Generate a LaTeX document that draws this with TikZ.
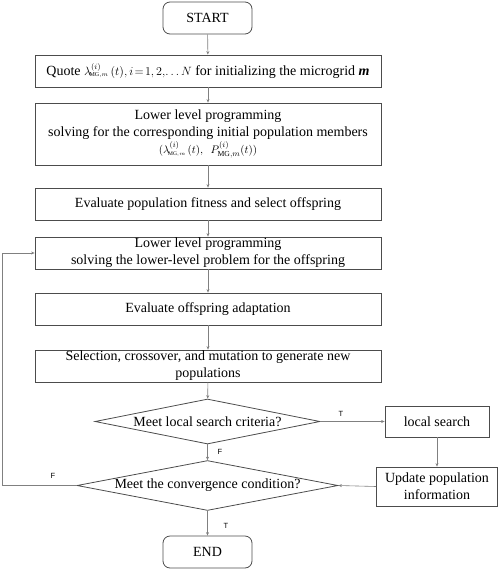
\documentclass[tikz,border=0pt]{standalone}
\usepackage{fontspec}
\setmainfont{Liberation Serif}
\newfontfamily\labfont{Liberation Sans}
\usetikzlibrary{shapes.geometric,arrows.meta}
\begin{document}
\begin{tikzpicture}[x=1pt,y=1pt,
  box/.style={draw=black!70,line width=0.8pt,rectangle,inner sep=1pt,align=center,font=\fontsize{14}{17}\selectfont},
  wide/.style={box,minimum width=346pt},
  term/.style={box,rounded corners=7pt,minimum width=89pt,minimum height=32pt},
  dec/.style={draw=black!70,line width=0.8pt,diamond,aspect=5,inner sep=0pt,font=\fontsize{14}{17}\selectfont},
  conn/.style={draw=black!50,line width=0.6pt,-{Stealth[length=3.5pt,width=3pt]}},
  lab/.style={font=\labfont\fontsize{7.5}{8}\selectfont}]
\useasboundingbox (0,0) rectangle (498,-570);
\node[term] (start) at (207.5,-18) {START};
\node[wide,minimum height=32pt] (q1) at (208,-71) {Quote {\fontsize{12}{14}\selectfont$\lambda^{(i)}_{\!\scriptscriptstyle\mathrm{MG},m}\,(t),i\!=\!1,2,\!\ldots N$} for initializing the microgrid \textbf{\textit{m}}};
\node[wide,minimum height=62pt] (q2) at (208,-134) {Lower level programming\\ solving for the corresponding initial population members\\ {\fontsize{11}{14}\selectfont$(\lambda^{(i)}_{\!\scriptscriptstyle\mathrm{MG},m}\,(t),\ \ P^{(i)}_{\mathrm{MG},m}(t))$}};
\node[wide,minimum height=32pt] (q3) at (208,-204) {Evaluate population fitness and select offspring};
\node[wide,minimum height=32pt] (q4) at (208,-253) {Lower level programming\\ solving the lower-level problem for the offspring};
\node[wide,minimum height=32pt] (q5) at (208,-309) {Evaluate offspring adaptation};
\node[wide,minimum height=32pt] (q6) at (208,-366) {Selection, crossover, and mutation to generate new\\ populations};
\node[dec,minimum width=225pt,minimum height=45pt] (d1) at (207.5,-421.5) {Meet local search criteria?};
\node[dec,minimum width=261pt,minimum height=47pt] (d2) at (207.5,-485.5) {Meet the convergence condition?};
\node[term] (end) at (207.5,-552) {END};
\node[box,minimum width=104pt,minimum height=31pt] (ls) at (437,-421.5) {local search};
\node[box,minimum width=121pt,minimum height=39pt] (up) at (437,-486.5) {Update population\\ information};
\coordinate (lp) at (2,-485.5);
\draw[conn] (start) -- (q1);
\draw[conn] (q1) -- (q2);
\draw[conn] (q2) -- (q3);
\draw[conn] (q3) -- (q4);
\draw[conn] (q4) -- (q5);
\draw[conn] (q5) -- (q6);
\draw[conn] (q6) -- (d1);
\draw[conn] (d1) -- (d2);
\draw[conn] (d2) -- (end);
\draw[conn] (d1.east) -- (ls.west);
\draw[conn] (ls.south) -- (up.north);
\draw[conn] (up.west) -- (d2.east);
\draw[conn] (d2.west) -- (lp) |- (q4.west);
\node[lab] (t1) at (341,-414) {T};
\node[lab] (f1) at (220,-452) {F};
\node[lab] (f2) at (53,-476) {F};
\node[lab] (t2) at (226,-526) {T};
\end{tikzpicture}
\end{document}
